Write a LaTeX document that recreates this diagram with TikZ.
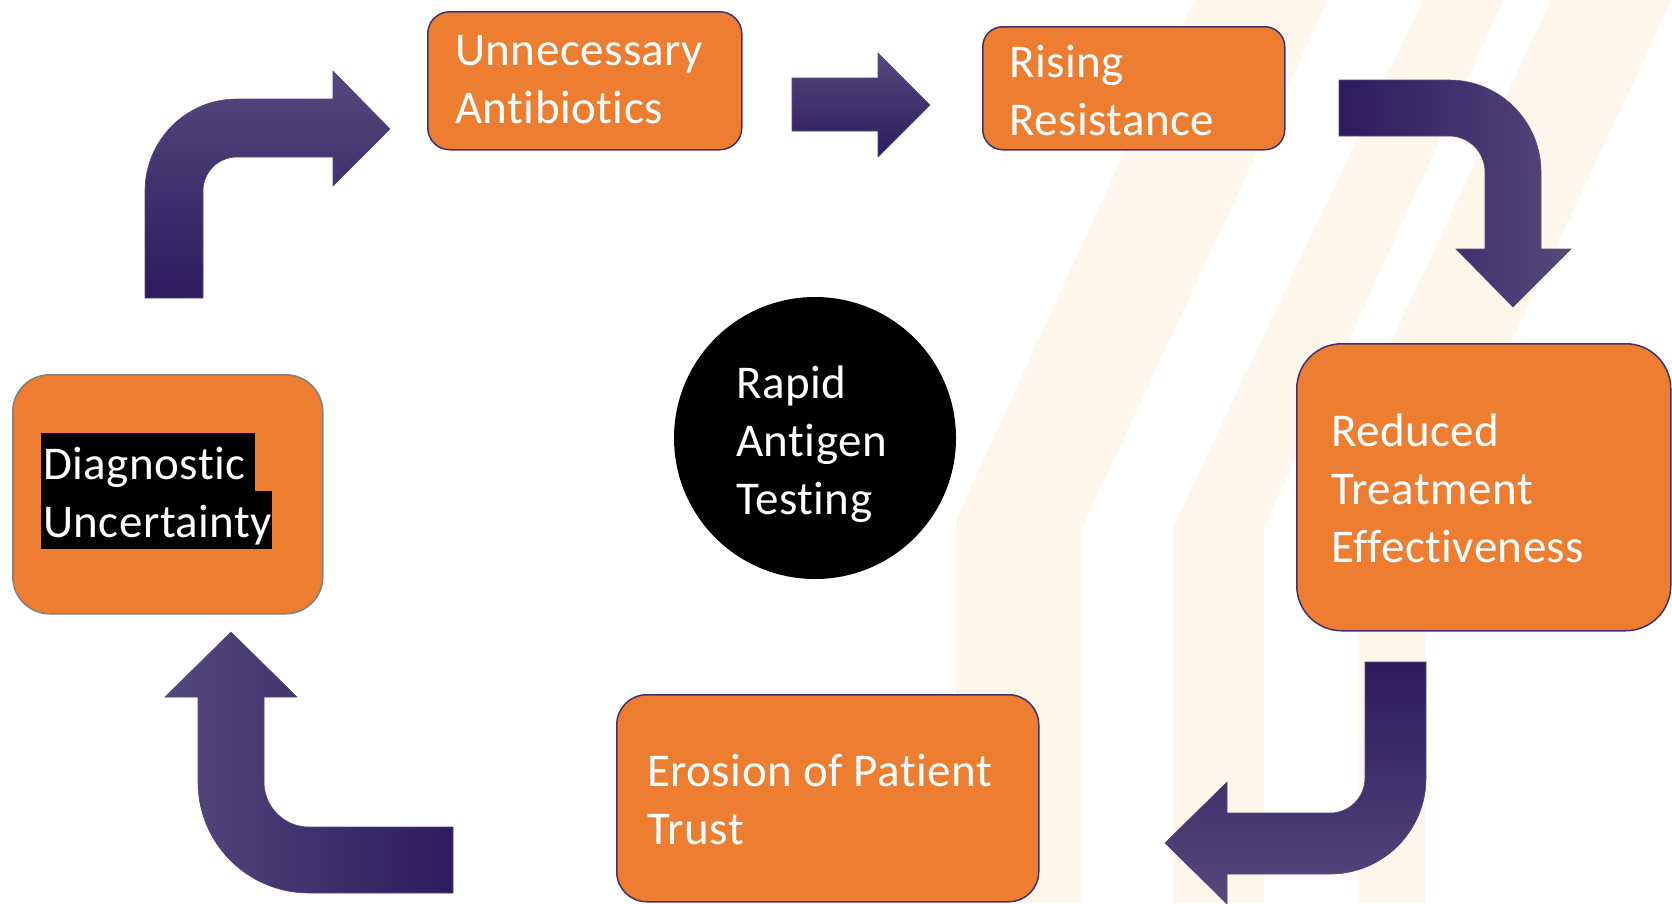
\documentclass[tikz,border=0pt]{standalone}
\usepackage{fontspec}
\setmainfont{Carlito}[Ligatures=NoCommon, LetterSpace=1]
\usetikzlibrary{positioning}

\definecolor{boxorange}{RGB}{237,125,49}
\definecolor{boxedge}{RGB}{64,50,112}
\definecolor{arrowdark}{RGB}{44,27,94}
\definecolor{arrowlight}{RGB}{84,73,124}
\definecolor{stripecream}{RGB}{253,247,235}

\newcommand{\twolines}[1]{\begin{tabular}[t]{@{}l@{}}#1\end{tabular}}

\begin{document}
\begin{tikzpicture}[x=1pt, y=-1pt,
    stepbox/.style={draw=boxedge, line width=1.5pt, fill=boxorange,
      anchor=north west, inner sep=0pt},
    steptext/.style={text=white, anchor=base west, inner sep=0pt,
      font=\fontsize{47}{58}\selectfont},
    bentarrow/.style={draw=arrowlight, line width=0.6pt, line join=miter},
    hilite/.style={steptext, fill=black, inner xsep=2pt,
      text height=46pt, text depth=12pt}
  ]
  \useasboundingbox (0,0) rectangle (1672,903);

  % Background stripes
  \foreach \xl/\yl/\tl/\tr/\yr/\xr in {956/520/1194/1328/528/1082,
      1173/527/1423/1503/527/1264, 1358/413/1551/1672/525/1425} {
    \fill[stripecream] (\xl,903) -- (\xl,\yl) -- (\tl,0) -- (\tr,0)
      -- (\xr,\yr) -- (\xr,903) -- cycle;
  }

  % Arrows round the cycle
  \draw[bentarrow, top color=arrowlight, bottom color=arrowdark]
    (145,298) -- (145,191) arc[start angle=180, end angle=270, radius=92]
    -- (333,99) -- (333,71) -- (390,129) -- (333,186) -- (333,157)
    -- (237,157) arc[start angle=270, end angle=180, radius=34]
    -- (203,298) -- cycle;
  \draw[bentarrow, top color=arrowlight, bottom color=arrowdark]
    (792,78) -- (878,78) -- (878,53) -- (930,105) -- (878,157)
    -- (878,131) -- (792,131) -- cycle;
  \draw[bentarrow, left color=arrowdark, right color=arrowlight]
    (1339,80) -- (1449,80) arc[start angle=270, end angle=360, radius=92]
    -- (1541,249) -- (1571,249) -- (1513,307) -- (1456,249) -- (1485,249)
    -- (1485,172) arc[start angle=0, end angle=-90, radius=36]
    -- (1339,136) -- cycle;
  \draw[bentarrow, top color=arrowdark, bottom color=arrowlight]
    (1365,662) -- (1426,662) -- (1426,778)
    arc[start angle=0, end angle=90, radius=96]
    -- (1227,874) -- (1227,904) -- (1165,843) -- (1227,782) -- (1227,813)
    -- (1330,813) arc[start angle=90, end angle=0, radius=35] -- cycle;
  \draw[bentarrow, left color=arrowlight, right color=arrowdark]
    (453,827) -- (309,827) arc[start angle=90, end angle=180, radius=45]
    -- (264,697) -- (297,697) -- (231,632) -- (165,697) -- (198,697)
    -- (198,782) arc[start angle=180, end angle=90, radius=111]
    -- (453,893) -- cycle;

  % Boxes
  \node[stepbox, rounded corners=22pt, minimum width=314pt, minimum height=138pt]
    (ab) at (427,11) {};
  \node[stepbox, rounded corners=20pt, minimum width=302pt, minimum height=123pt]
    (rr) at (982,26) {};
  \node[stepbox, rounded corners=45pt, minimum width=374pt, minimum height=287pt]
    (rte) at (1296,343) {};
  \node[stepbox, rounded corners=30pt, minimum width=422pt, minimum height=207pt]
    (ept) at (616,694) {};
  \node[stepbox, draw=gray, rounded corners=37pt, minimum width=310pt,
    minimum height=239pt] (du) at (12,374) {};
  \node[circle, fill=black, inner sep=0pt, minimum size=282pt] (rat) at (815,438) {};

  % Texts
  \node[steptext] (abtext) at ([shift={(28,54)}]ab.north west)
    {\twolines{Unnecessary\\Antibiotics}};
  \node[steptext] (rrtext) at ([shift={(27,51)}]rr.north west)
    {\twolines{Rising\\Resistance}};
  \node[steptext] (rtetext) at ([shift={(35,103)}]rte.north west)
    {\twolines{Reduced\\Treatment\\Effectiveness}};
  \node[steptext] (epttext) at ([shift={(31,92)}]ept.north west)
    {\twolines{Erosion of Patient\\Trust}};
  \node[hilite] (du1) at ([shift={(29,105)}]du.north west)
    {\makebox[210pt][l]{Diagnostic}};
  \node[hilite] (du2) at ([shift={(0,58)}]du1.base west)
    {\makebox[227pt][l]{Uncertainty}};
  \node[steptext] (rattext) at ([shift={(-79,-40)}]rat.center)
    {\twolines{Rapid\\Antigen\\Testing}};
\end{tikzpicture}
\end{document}
